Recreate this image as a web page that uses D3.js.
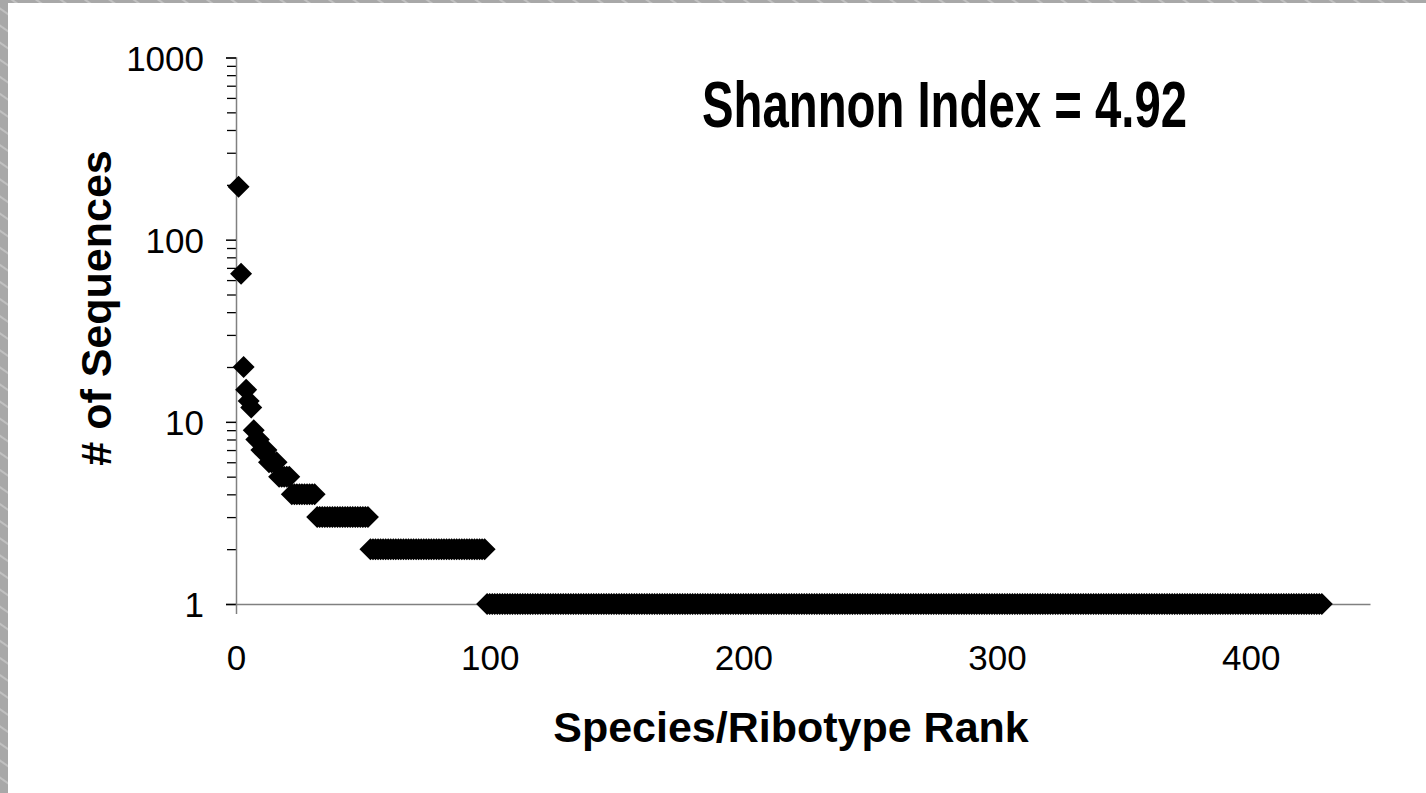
<!DOCTYPE html>
<html>
<head>
<meta charset="utf-8">
<script src="https://cdn.jsdelivr.net/npm/d3@7.9.0/dist/d3.min.js"></script>
<style>
  html, body { margin: 0; padding: 0; background: #fff; }
  svg { display: block; font-family: Arial, "Liberation Sans", sans-serif; }
</style>
</head>
<body>
<div id="chart"></div>
<script>
// rank-abundance data: leading singletons listed, then runs of equal counts
const topCounts = [195, 65, 20, 15, 13, 12, 9, 8, 8, 7, 7, 7, 6, 6, 6, 6];
const runValues = [5, 4, 3, 2, 1];
const runLengths = [5, 10, 21, 46, 330];

const xTicks = [0, 100, 200, 300, 400];
const yTicks = [1, 10, 100, 1000];
const titleText = "Shannon Index = 4.92";
const xLabel = "Species/Ribotype Rank";
const yLabel = "# of Sequences";

const counts = [...topCounts];
runValues.forEach((v, i) => {
  for (let k = 0; k < runLengths[i]; k++) counts.push(v);
});
const points = counts.map((n, i) => ({ rank: i + 1, n }));

const width = 1426;
const height = 793;

const svg = d3.select("#chart").append("svg")
  .attr("width", width)
  .attr("height", height);

// slide frame (hatched gray strip on left and top)
const defs = svg.append("defs");
const pat = defs.append("pattern")
  .attr("id", "hatch")
  .attr("patternUnits", "userSpaceOnUse")
  .attr("width", 14)
  .attr("height", 14)
  .attr("patternTransform", "rotate(35)");
pat.append("rect").attr("width", 14).attr("height", 14).attr("fill", "#a8a8a8");
pat.append("line").attr("x1", 0).attr("y1", 7).attr("x2", 14).attr("y2", 7)
  .attr("stroke", "#cacaca").attr("stroke-width", 1.5);

svg.append("rect").attr("x", 0).attr("y", 0).attr("width", width).attr("height", 3).attr("fill", "url(#hatch)");
svg.append("rect").attr("x", 0).attr("y", 0).attr("width", 8).attr("height", height).attr("fill", "url(#hatch)");

const x = d3.scaleLinear().domain([0, 447]).range([236, 1370]);
const y = d3.scaleLog().domain([1, 1000]).range([604, 57.5]);

// y minor ticks
const minor = [];
for (let d = 1; d < 1000; d *= 10) {
  for (let m = 2; m <= 9; m++) minor.push(d * m);
}

const yMinor = svg.append("g")
  .attr("transform", `translate(${x(0)},0)`)
  .call(d3.axisLeft(y).tickValues(minor).tickSize(9).tickFormat(""));
yMinor.select(".domain").remove();
yMinor.selectAll(".tick line").attr("stroke", "#000").attr("stroke-width", 1.3);

const yAxis = svg.append("g")
  .attr("transform", `translate(${x(0)},0)`)
  .call(d3.axisLeft(y).tickValues(yTicks).tickSize(10).tickPadding(22).tickFormat(d3.format("d")));
yAxis.select(".domain").attr("stroke", "#808080").attr("stroke-width", 1.5);
yAxis.selectAll(".tick line").attr("stroke", "#000").attr("stroke-width", 1.5);
yAxis.selectAll(".tick text")
  .attr("fill", "#000")
  .style("font-size", "35px")
  .attr("dy", "0.36em");

const xAxis = svg.append("g")
  .attr("transform", `translate(0,${y(1)})`)
  .call(d3.axisBottom(x).tickValues(xTicks).tickSize(10).tickPadding(31).tickSizeOuter(0));
xAxis.select(".domain").attr("stroke", "#808080").attr("stroke-width", 1.5);
xAxis.selectAll(".tick line").attr("stroke", "#808080").attr("stroke-width", 1.5);
xAxis.selectAll(".tick text")
  .attr("fill", "#000")
  .style("font-size", "35px");

// markers
const r = 11;
const diamond = d3.symbol().type(d3.symbolDiamond2).size((r / 0.62625) ** 2);
svg.append("g")
  .selectAll("path")
  .data(points)
  .join("path")
  .attr("transform", (d) => `translate(${x(d.rank)},${y(d.n)})`)
  .attr("d", diamond)
  .attr("fill", "#000");

// titles
svg.append("text")
  .attr("x", 702)
  .attr("y", 127)
  .attr("textLength", 485)
  .attr("lengthAdjust", "spacingAndGlyphs")
  .style("font-size", "64px")
  .style("font-weight", "bold")
  .text(titleText);

svg.append("text")
  .attr("x", 791)
  .attr("y", 742)
  .attr("text-anchor", "middle")
  .style("font-size", "43px")
  .style("font-weight", "bold")
  .text(xLabel);

svg.append("text")
  .attr("transform", "translate(111,308) rotate(-90)")
  .attr("text-anchor", "middle")
  .style("font-size", "43px")
  .style("font-weight", "bold")
  .text(yLabel);
</script>
</body>
</html>
